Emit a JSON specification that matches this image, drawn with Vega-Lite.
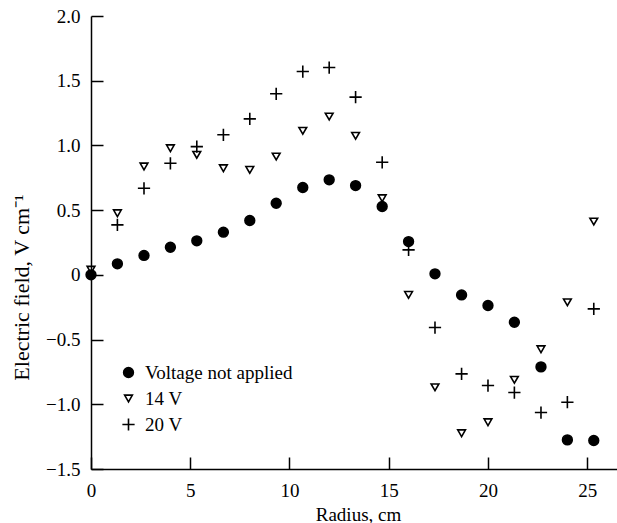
{
  "$schema": "https://vega.github.io/schema/vega-lite/v6.json",
  "width": 526,
  "height": 453,
  "autosize": {"type": "none"},
  "padding": {"left": 91, "top": 16, "right": 0, "bottom": 54},
  "background": "white",
  "config": {
    "font": "Liberation Serif",
    "view": {"stroke": null},
    "axis": {
      "grid": false,
      "domainColor": "black",
      "domainWidth": 1.5,
      "tickColor": "black",
      "tickWidth": 1.5,
      "tickSize": -12,
      "labelFlush": false,
      "labelFont": "Liberation Serif",
      "labelFontSize": 19,
      "labelColor": "black",
      "titleFont": "Liberation Serif",
      "titleFontSize": 19,
      "titleFontWeight": "normal",
      "titleColor": "black"
    },
    "legend": {
      "labelFont": "Liberation Serif",
      "labelFontSize": 19,
      "labelColor": "black"
    }
  },
  "data": {
    "values": [
      {"r": 0, "E": 0, "series": "Voltage not applied"},
      {"r": 1.33, "E": 0.085, "series": "Voltage not applied"},
      {"r": 2.67, "E": 0.15, "series": "Voltage not applied"},
      {"r": 4, "E": 0.213, "series": "Voltage not applied"},
      {"r": 5.33, "E": 0.263, "series": "Voltage not applied"},
      {"r": 6.67, "E": 0.33, "series": "Voltage not applied"},
      {"r": 8, "E": 0.42, "series": "Voltage not applied"},
      {"r": 9.33, "E": 0.553, "series": "Voltage not applied"},
      {"r": 10.67, "E": 0.675, "series": "Voltage not applied"},
      {"r": 12, "E": 0.734, "series": "Voltage not applied"},
      {"r": 13.33, "E": 0.69, "series": "Voltage not applied"},
      {"r": 14.67, "E": 0.528, "series": "Voltage not applied"},
      {"r": 16, "E": 0.257, "series": "Voltage not applied"},
      {"r": 17.33, "E": 0.008, "series": "Voltage not applied"},
      {"r": 18.67, "E": -0.155, "series": "Voltage not applied"},
      {"r": 20, "E": -0.237, "series": "Voltage not applied"},
      {"r": 21.33, "E": -0.366, "series": "Voltage not applied"},
      {"r": 22.67, "E": -0.711, "series": "Voltage not applied"},
      {"r": 24, "E": -1.275, "series": "Voltage not applied"},
      {"r": 25.33, "E": -1.28, "series": "Voltage not applied"},
      {"r": 0, "E": 0.04, "series": "14 V"},
      {"r": 1.33, "E": 0.476, "series": "14 V"},
      {"r": 2.67, "E": 0.837, "series": "14 V"},
      {"r": 4, "E": 0.978, "series": "14 V"},
      {"r": 5.33, "E": 0.927, "series": "14 V"},
      {"r": 6.67, "E": 0.824, "series": "14 V"},
      {"r": 8, "E": 0.811, "series": "14 V"},
      {"r": 9.33, "E": 0.914, "series": "14 V"},
      {"r": 10.67, "E": 1.113, "series": "14 V"},
      {"r": 12, "E": 1.223, "series": "14 V"},
      {"r": 13.33, "E": 1.074, "series": "14 V"},
      {"r": 14.67, "E": 0.592, "series": "14 V"},
      {"r": 16, "E": -0.155, "series": "14 V"},
      {"r": 17.33, "E": -0.869, "series": "14 V"},
      {"r": 18.67, "E": -1.224, "series": "14 V"},
      {"r": 20, "E": -1.139, "series": "14 V"},
      {"r": 21.33, "E": -0.811, "series": "14 V"},
      {"r": 22.67, "E": -0.575, "series": "14 V"},
      {"r": 24, "E": -0.212, "series": "14 V"},
      {"r": 25.33, "E": 0.412, "series": "14 V"},
      {"r": 1.33, "E": 0.386, "series": "20 V"},
      {"r": 2.67, "E": 0.669, "series": "20 V"},
      {"r": 4, "E": 0.862, "series": "20 V"},
      {"r": 5.33, "E": 0.991, "series": "20 V"},
      {"r": 6.67, "E": 1.082, "series": "20 V"},
      {"r": 8, "E": 1.205, "series": "20 V"},
      {"r": 9.33, "E": 1.399, "series": "20 V"},
      {"r": 10.67, "E": 1.571, "series": "20 V"},
      {"r": 12, "E": 1.602, "series": "20 V"},
      {"r": 13.33, "E": 1.373, "series": "20 V"},
      {"r": 14.67, "E": 0.87, "series": "20 V"},
      {"r": 16, "E": 0.193, "series": "20 V"},
      {"r": 17.33, "E": -0.407, "series": "20 V"},
      {"r": 18.67, "E": -0.765, "series": "20 V"},
      {"r": 20, "E": -0.855, "series": "20 V"},
      {"r": 21.33, "E": -0.909, "series": "20 V"},
      {"r": 22.67, "E": -1.064, "series": "20 V"},
      {"r": 24, "E": -0.984, "series": "20 V"},
      {"r": 25.33, "E": -0.263, "series": "20 V"}
    ]
  },
  "mark": {"type": "point", "strokeWidth": 1.6, "opacity": 1},
  "encoding": {
    "x": {
      "field": "r",
      "type": "quantitative",
      "scale": {"domain": [0, 26.5], "nice": false, "zero": false},
      "axis": {
        "title": "Radius, cm",
        "values": [0, 5, 10, 15, 20, 25],
        "labelPadding": 24,
        "titleX": 267,
        "titleY": 51,
        "titleBaseline": "alphabetic"
      }
    },
    "y": {
      "field": "E",
      "type": "quantitative",
      "scale": {"domain": [-1.5, 2.0], "nice": false, "zero": false},
      "axis": {
        "title": "Electric field, V cm⁻¹",
        "titleFontSize": 22,
        "values": [-1.5, -1, -0.5, 0, 0.5, 1, 1.5, 2],
        "labelExpr": "datum.value == 0 ? '0' : replace(format(datum.value, '.1f'), '-', '−')",
        "labelPadding": 23,
        "titleX": -63,
        "titleY": 271,
        "titleBaseline": "alphabetic"
      }
    },
    "shape": {
      "field": "series",
      "type": "nominal",
      "scale": {
        "domain": ["Voltage not applied", "14 V", "20 V"],
        "range": ["circle", "triangle-down", "M-1,0H1M0,-1V1"]
      },
      "legend": {
        "title": null,
        "orient": "none",
        "legendX": 28,
        "legendY": 347,
        "padding": 0,
        "rowPadding": 6,
        "labelOffset": 7,
        "symbolStrokeWidth": 1.6
      }
    },
    "fill": {
      "field": "series",
      "type": "nominal",
      "scale": {
        "domain": ["Voltage not applied", "14 V", "20 V"],
        "range": ["black", "transparent", "transparent"]
      },
      "legend": {
        "title": null,
        "orient": "none",
        "legendX": 28,
        "legendY": 347,
        "padding": 0,
        "rowPadding": 6,
        "labelOffset": 7,
        "symbolStrokeWidth": 1.6
      }
    },
    "stroke": {
      "field": "series",
      "type": "nominal",
      "scale": {
        "domain": ["Voltage not applied", "14 V", "20 V"],
        "range": ["black", "black", "black"]
      },
      "legend": {
        "title": null,
        "orient": "none",
        "legendX": 28,
        "legendY": 347,
        "padding": 0,
        "rowPadding": 6,
        "labelOffset": 7,
        "symbolStrokeWidth": 1.6
      }
    },
    "size": {
      "field": "series",
      "type": "nominal",
      "scale": {
        "type": "ordinal",
        "domain": ["Voltage not applied", "14 V", "20 V"],
        "range": [95, 60, 150]
      },
      "legend": {
        "title": null,
        "orient": "none",
        "legendX": 28,
        "legendY": 347,
        "padding": 0,
        "rowPadding": 6,
        "labelOffset": 7,
        "symbolStrokeWidth": 1.6
      }
    }
  }
}
